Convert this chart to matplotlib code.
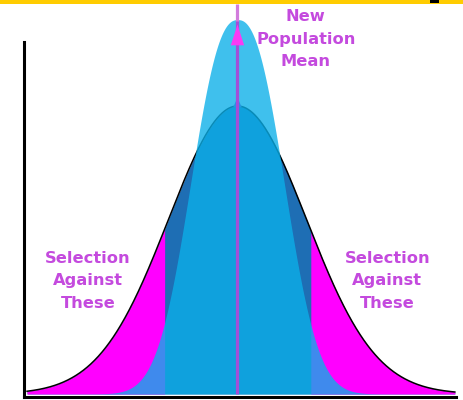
import numpy as np
import matplotlib
matplotlib.use("Agg")
import matplotlib.pyplot as plt
from matplotlib.patches import Rectangle

# ---- data (bell curves described by their parameters) ----
trait_range = (-3.05, 3.15)          # x extent of the original population (in SD units)
original_mean = 0.0
original_sd = 1.0
original_peak = 1.0
new_mean = 0.0
new_scale = 0.855                    # new population: narrower, taller bell
new_shape = 2.4
new_peak = 1.30
selection_cutoffs = [-1.05, 1.06]    # tails beyond these are selected against
label_top = "New\nPopulation\nMean"
label_tail = "Selection\nAgainst\nThese"
label_top_pos = (0.99, 1.139)        # baseline of last line
label_left_pos = (-2.17, 0.299)
label_right_pos = (2.17, 0.299)

# colours
c_orig = "#1e6eb4"
c_tail = "#ff00ff"
c_new = (11/255, 176/255, 233/255)
c_line = "#a24fd8"
c_line_top = "#d27cdc"
c_head = "#f93af4"
c_text = "#c44ade"

fig = plt.figure(figsize=(4.63, 4.00), dpi=100)
fig.patch.set_facecolor("white")
ax = fig.add_axes([24/463, 3.5/400, 432/463, 354.5/400])
ax.set_xlim(-3.094, 3.167)
ax.set_ylim(-0.00868, 1.2222)

x = np.linspace(trait_range[0], trait_range[1], 800)
orig = original_peak * np.exp(-0.5 * ((x - original_mean) / original_sd) ** 2)
new = new_peak * np.exp(-np.abs((x - new_mean) / new_scale) ** new_shape)

ax.fill_between(x, 0, orig, color=c_orig, lw=0, zorder=1)
ax.fill_between(x, 0, orig, where=x <= selection_cutoffs[0], color=c_tail, lw=0, zorder=2, interpolate=True)
ax.fill_between(x, 0, orig, where=x >= selection_cutoffs[1], color=c_tail, lw=0, zorder=2, interpolate=True)
ax.plot(x, orig, color="black", lw=1.1, zorder=3)

# old mean marker (small head)
ax.annotate("", xy=(original_mean, 1.03), xytext=(original_mean, 0.99),
            arrowprops=dict(arrowstyle="-|>,head_length=0.7,head_width=0.3",
                            color="#7a3fc0", lw=0, shrinkA=0, shrinkB=0,
                            mutation_scale=10), zorder=3.5, annotation_clip=False)

ax.fill_between(x, 0, new, color=c_new, alpha=0.79, lw=0, zorder=4, clip_on=False)

# mean line
ax.plot([new_mean, new_mean], [0, new_peak], color=c_line, lw=2.3, zorder=5,
        solid_capstyle="butt", clip_on=False)
ax.plot([new_mean, new_mean], [new_peak - 0.005, 1.355], color=c_line_top, lw=2.3,
        zorder=5, solid_capstyle="butt", clip_on=False)
ax.annotate("", xy=(new_mean, 1.283), xytext=(new_mean, 1.21),
            arrowprops=dict(arrowstyle="-|>,head_length=1.0,head_width=0.32",
                            color=c_head, lw=0, shrinkA=0, shrinkB=0,
                            mutation_scale=15), zorder=6, annotation_clip=False)

tkw = dict(color=c_text, fontsize=11.7, fontweight="bold", ha="center", va="baseline",
           linespacing=1.62, family="DejaVu Sans", clip_on=False, zorder=7,
           multialignment="center")
ax.text(*label_top_pos, label_top, **tkw)
ax.text(*label_left_pos, label_tail, **tkw)
ax.text(*label_right_pos, label_tail, **tkw)

for s in ["top", "right"]:
    ax.spines[s].set_visible(False)
for s in ["left", "bottom"]:
    ax.spines[s].set_linewidth(2.2)
    ax.spines[s].set_color("black")
    ax.spines[s].set_zorder(8)
ax.set_xticks([])
ax.set_yticks([])
ax.patch.set_alpha(0)

# top banner
fig.patches.append(Rectangle((0, 1 - 4/400), 1, 4/400, transform=fig.transFigure,
                             facecolor="#ffcc00", edgecolor="none", zorder=10))
fig.patches.append(Rectangle((430/463, 1 - 3/400), 9/463, 3/400, transform=fig.transFigure,
                             facecolor="black", edgecolor="none", zorder=11))

fig.savefig("out.png", dpi=100)
